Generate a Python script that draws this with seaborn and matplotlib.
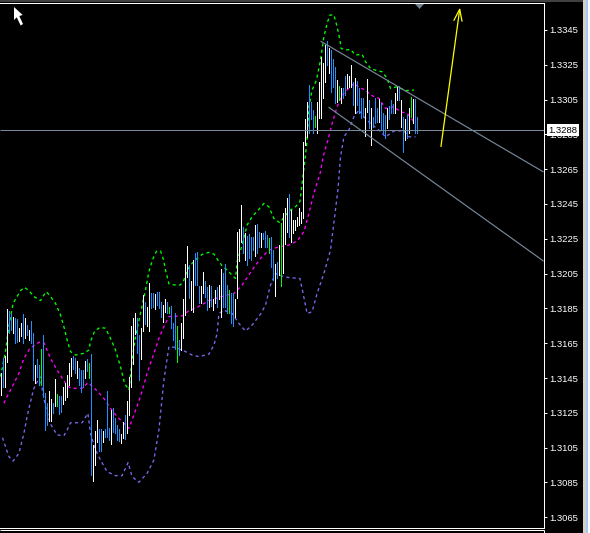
import matplotlib
matplotlib.use("Agg")
import matplotlib.pyplot as plt
import pandas as pd
import seaborn as sns

# bars, left to right
highs = [
    1.31477, 1.31563, 1.31577, 1.31845, 1.31837, 1.31818, 1.31803, 1.31793, 1.31787, 1.31736,
    1.31764, 1.31818, 1.31793, 1.31755, 1.31726, 1.31778, 1.31707, 1.31525, 1.31558, 1.31525,
    1.31615, 1.31697, 1.31362, 1.31305, 1.31375, 1.31328, 1.31305, 1.31443, 1.31358, 1.31347,
    1.31347, 1.31400, 1.31420, 1.31466, 1.31535, 1.31563, 1.31577, 1.31563, 1.31550, 1.31506,
    1.31496, 1.31496, 1.31550, 1.31558, 1.31535, 1.31588, 1.31065, 1.31146, 1.31209, 1.31155,
    1.31155, 1.31147, 1.31155, 1.31375, 1.31161, 1.31266, 1.31276, 1.31218, 1.31180, 1.31155,
    1.31128, 1.31199, 1.31238, 1.31318, 1.31458, 1.31749, 1.31793, 1.31822, 1.31797, 1.31697,
    1.31736, 1.31927, 1.31885, 1.31860, 1.31994, 1.31937, 1.31937, 1.31933, 1.31946, 1.31946,
    1.31885, 1.31870, 1.31902, 1.31885, 1.31860, 1.31864, 1.31764, 1.31822, 1.31749, 1.31669,
    1.31764, 1.31902, 1.32105, 1.32208, 1.32099, 1.32007, 1.32128, 1.32166, 1.32176, 1.31978,
    1.31978, 1.32057, 1.32007, 1.31974, 1.31984, 1.31978, 1.31902, 1.31955, 1.31974, 1.31984,
    1.32076, 1.32051, 1.32105, 1.31984, 1.31955, 1.31940, 1.31940, 1.31902, 1.32287, 1.32304,
    1.32444, 1.32319, 1.32281, 1.32268, 1.32277, 1.32262, 1.32262, 1.32329, 1.32335, 1.32291,
    1.32281, 1.32281, 1.32294, 1.32271, 1.32252, 1.32262, 1.32185, 1.32105, 1.32118, 1.32214,
    1.32338, 1.32396, 1.32425, 1.32482, 1.32507, 1.32415, 1.32358, 1.32358, 1.32377, 1.32425,
    1.32405, 1.32808, 1.32936, 1.33038, 1.33133, 1.33038, 1.32990, 1.32955, 1.33038, 1.33153,
    1.33296, 1.33258, 1.33363, 1.33386, 1.33344, 1.33335, 1.33281, 1.33239, 1.33162, 1.33128,
    1.33118, 1.33118, 1.33185, 1.33197, 1.33185, 1.33248, 1.33153, 1.33172, 1.33156, 1.33114,
    1.33061, 1.33057, 1.32999, 1.33166, 1.33047, 1.32999, 1.32951, 1.33057, 1.32999, 1.33051,
    1.33028, 1.32971, 1.32961, 1.32999, 1.33013, 1.33047, 1.33024, 1.33086, 1.33128, 1.33128,
    1.33047, 1.32951, 1.32936, 1.32961, 1.32999, 1.33063, 1.33051, 1.33051, 1.32948,
]
lows = [
    1.31352, 1.31397, 1.31397, 1.31544, 1.31707, 1.31726, 1.31707, 1.31653, 1.31659, 1.31663,
    1.31692, 1.31653, 1.31678, 1.31697, 1.31669, 1.31649, 1.31439, 1.31420, 1.31458, 1.31410,
    1.31410, 1.31343, 1.31151, 1.31180, 1.31205, 1.31205, 1.31247, 1.31289, 1.31289, 1.31243,
    1.31257, 1.31301, 1.31324, 1.31343, 1.31410, 1.31462, 1.31500, 1.31477, 1.31448, 1.31410,
    1.31372, 1.31400, 1.31448, 1.31492, 1.31448, 1.30893, 1.30860, 1.30950, 1.31084, 1.31031,
    1.31031, 1.31084, 1.31113, 1.31113, 1.31094, 1.31071, 1.31142, 1.31132, 1.31094, 1.31088,
    1.31079, 1.31103, 1.31100, 1.31132, 1.31238, 1.31400, 1.31529, 1.31703, 1.31592, 1.31439,
    1.31559, 1.31720, 1.31761, 1.31749, 1.31722, 1.31851, 1.31856, 1.31845, 1.31870, 1.31851,
    1.31803, 1.31774, 1.31831, 1.31822, 1.31822, 1.31736, 1.31669, 1.31615, 1.31544, 1.31582,
    1.31611, 1.31681, 1.31812, 1.32032, 1.31907, 1.31840, 1.31831, 1.31984, 1.31984, 1.31879,
    1.31882, 1.31936, 1.31917, 1.31840, 1.31856, 1.31863, 1.31840, 1.31882, 1.31856, 1.31902,
    1.31802, 1.31859, 1.31856, 1.31821, 1.31825, 1.31764, 1.31748, 1.31802, 1.31911, 1.32124,
    1.32233, 1.32166, 1.32128, 1.32099, 1.32137, 1.32128, 1.32185, 1.32151, 1.32166, 1.32200,
    1.32200, 1.32246, 1.32204, 1.32204, 1.32166, 1.32086, 1.32013, 1.31921, 1.32022, 1.32041,
    1.31978, 1.32051, 1.32220, 1.32291, 1.32258, 1.32233, 1.32281, 1.32300, 1.32323, 1.32329,
    1.32338, 1.32367, 1.32789, 1.32836, 1.32856, 1.32936, 1.32856, 1.32894, 1.32856, 1.32942,
    1.32942, 1.33057, 1.33153, 1.33248, 1.33200, 1.33095, 1.33124, 1.33028, 1.33038, 1.33047,
    1.33028, 1.33057, 1.33076, 1.33114, 1.33124, 1.33124, 1.33018, 1.32971, 1.33018, 1.32971,
    1.32942, 1.32951, 1.32840, 1.32980, 1.32884, 1.32789, 1.32894, 1.32913, 1.32923, 1.32923,
    1.32875, 1.32856, 1.32827, 1.32884, 1.32936, 1.32971, 1.32974, 1.32971, 1.33047, 1.33047,
    1.32894, 1.32750, 1.32817, 1.32827, 1.32856, 1.32951, 1.32917, 1.32856, 1.32856,
]
kinds = list(
    "WBWWBBWBBW" "WBWBWBBWBB" "GBBBWWBWGB" "BWWWWWBBWB" "BBWBGBWWWB"
    "BWBBBWBBBB" "WWBWWWWWBB" "WWBWWBBWBB" "BWWBGBBBGB" "WWWWBWWBBB"
    "WWBBWBWWBW" "WBBBGBBWWW" "WBWBBBBWBB" "WBBBGBBWBW" "GWWWBWWWWW"
    "WWWWBBBGWW" "WWWBWBBBWG" "WBBWWWBWBB" "BBWWBWBBBW" "BBBWBBBWWB"
    "WBWBWGWBB"
)

# bollinger style bands, sampled by bar number
upper_x = [
    0, 2.5, 4, 6.3, 8.3, 10, 12, 14.2, 16.7, 20, 21.7, 23, 25, 27.5, 30, 31.7, 33.3, 35, 37.5, 41.7,
    44.2, 45, 47, 49.7, 52.5, 55, 57.5, 60, 62, 64.2, 65.8, 67.5, 70, 72.5, 74.2, 76, 78, 80, 81.5, 82.5,
    84.2, 86.7, 90, 91.7, 93.3, 95.8, 98.3, 100.8, 104.2, 106.7, 108.7, 110.8, 113.3, 115.8, 117.5, 118.3,
    120.8, 123.3, 125.8, 129.2, 131.7, 134.2, 136.7, 139.7, 142.5, 145, 147.5, 149.7, 150.8, 152, 153.3,
    154.2, 155.8, 158, 160, 161.7, 163.3, 164.7, 166.7, 168.3, 169.7, 170.3, 172.5, 175, 177.5, 180.8,
    182.5, 185, 188.3, 190.8, 193.3, 195, 198.3, 202.5, 206.7,
]
upper_y = [
    1.31458, 1.31602, 1.31736, 1.31879, 1.31918, 1.31952, 1.31971, 1.31952, 1.31918, 1.31895,
    1.31927, 1.31946, 1.31918, 1.31879, 1.31812, 1.31745, 1.31669, 1.31602, 1.31582, 1.31592,
    1.31611, 1.31659, 1.31717, 1.31741, 1.31736, 1.31678, 1.31611, 1.31515, 1.31420, 1.31381,
    1.31554, 1.31688, 1.31822, 1.31956, 1.32061, 1.32130, 1.32178, 1.32180, 1.32130, 1.32071,
    1.31991, 1.31985, 1.31985, 1.32013, 1.32070, 1.32109, 1.32137, 1.32160, 1.32172, 1.32162,
    1.32128, 1.32095, 1.32070, 1.32041, 1.32022, 1.32118, 1.32214, 1.32329, 1.32377, 1.32419,
    1.32453, 1.32434, 1.32367, 1.32342, 1.32386, 1.32415, 1.32434, 1.32463, 1.32568, 1.32683,
    1.32817, 1.33009, 1.33105, 1.33162, 1.33277, 1.33411, 1.33488, 1.33536, 1.33536, 1.33469,
    1.33392, 1.33344, 1.33335, 1.33338, 1.33306, 1.33310, 1.33268, 1.33229, 1.33216, 1.33210,
    1.33172, 1.33114, 1.33124, 1.33101, 1.33105,
]
middle_x = [
    1.7, 3.3, 6.3, 9.2, 11.7, 14.7, 19.2, 21.7, 25, 28.3, 32.5, 35, 40.8, 43.7, 47.5, 51.7, 55, 58.3,
    64.2, 66.7, 70, 73.3, 76.7, 79.2, 81.7, 84.2, 90.8, 94.2, 98.3, 104.2, 110, 116.7, 120.8, 125.8,
    130, 134.2, 139.2, 144.2, 148.3, 151.7, 154.2, 156.7, 160, 161.3, 163.7, 165.8, 168.3, 170.8,
    173.3, 176.7, 179.2, 182.5, 185, 189.2, 192.5, 196.7, 200, 203.3, 206.7,
]
middle_y = [
    1.31305, 1.31343, 1.31410, 1.31477, 1.31563, 1.31621, 1.31655, 1.31653, 1.31563, 1.31496,
    1.31420, 1.31391, 1.31391, 1.31423, 1.31385, 1.31333, 1.31276, 1.31228, 1.31161, 1.31238,
    1.31343, 1.31477, 1.31592, 1.31678, 1.31745, 1.31803, 1.31807, 1.31837, 1.31856, 1.31894,
    1.31917, 1.31936, 1.31984, 1.32070, 1.32137, 1.32185, 1.32204, 1.32214, 1.32237, 1.32291,
    1.32396, 1.32511, 1.32635, 1.32721, 1.32817, 1.32913, 1.33009, 1.33076, 1.33105, 1.33143,
    1.33120, 1.33105, 1.33076, 1.33057, 1.32999, 1.33009, 1.32980, 1.32971, 1.32923,
]
lower_x = [
    1, 2.5, 4.2, 6.3, 9.2, 11.7, 13.3, 15, 16.7, 19.7, 22.5, 25, 28.3, 31.7, 33.3, 35, 40.8, 43.7, 45,
    47.5, 50, 53.3, 57.5, 60.8, 63.8, 65.8, 69.2, 73.3, 76.7, 79.2, 81.7, 84.2, 87.5, 92.5, 95.8, 99.2,
    104.2, 106.7, 108.3, 109.2, 111.7, 115.8, 119.2, 122.5, 125.8, 130, 132.5, 135, 137.5, 141.7, 145,
    149.7, 151.3, 153.3, 155.8, 158.3, 161.7, 165, 168.7, 170, 171.7, 174.2, 176.7, 179.2, 181.7, 185,
    189.2, 192.5, 196.7, 201.7, 204.2, 207.5,
]
lower_y = [
    1.31107, 1.31056, 1.30998, 1.30973, 1.31017, 1.31132, 1.31228, 1.31314, 1.31391, 1.31458,
    1.31285, 1.31186, 1.31123, 1.31119, 1.31151, 1.31193, 1.31193, 1.31247, 1.31132, 1.31036,
    1.30979, 1.30912, 1.30889, 1.30889, 1.30964, 1.30883, 1.30851, 1.30902, 1.30979, 1.31151,
    1.31439, 1.31630, 1.31626, 1.31602, 1.31582, 1.31573, 1.31587, 1.31639, 1.31706, 1.31821,
    1.31840, 1.31821, 1.31764, 1.31720, 1.31754, 1.31817, 1.31869, 1.31984, 1.32051, 1.32032,
    1.32026, 1.32022, 1.31936, 1.31821, 1.31831, 1.31936, 1.32051, 1.32185, 1.32530, 1.32721,
    1.32836, 1.32875, 1.32951, 1.32990, 1.32951, 1.32913, 1.32875, 1.32836, 1.32869, 1.32871,
    1.32836, 1.32836,
]

# hand drawn objects on the chart
channel_top_x = [160, 271.5]
channel_top_y = [1.33386, 1.32634]
channel_bottom_x = [164, 271.5]
channel_bottom_y = [1.33007, 1.32122]
arrow_x = [220.2, 229.6]
arrow_y = [1.32778, 1.33569]
barb_x = [226.6, 229.6, 230.8]
barb_y = [1.33503, 1.33569, 1.33498]

price_now = 1.32875
tick_prices = [
    1.3345, 1.3325, 1.3305, 1.3285, 1.3265, 1.3245, 1.3225, 1.3205,
    1.3185, 1.3165, 1.3145, 1.3125, 1.3105, 1.3085, 1.3065,
]

W, H = 590, 533

sns.set_style("dark", {"axes.facecolor": "black", "figure.facecolor": "black"})
plt.rcParams["font.family"] = ["Liberation Sans", "DejaVu Sans"]
plt.rcParams["lines.solid_capstyle"] = "butt"

fig = plt.figure(figsize=(W / 100, H / 100), dpi=100)
ax = fig.add_axes([0, 1 - 527.5 / H, 543.5 / W, 524.5 / H])
px = 0.72

# bands go under the bars
for xs, ys, color in [
    (upper_x, upper_y, "#00ff00"),
    (middle_x, middle_y, "#ff00ff"),
    (lower_x, lower_y, "#7b68ee"),
]:
    line_df = pd.DataFrame({"bar": xs, "price": ys})
    sns.lineplot(data=line_df, x="bar", y="price", color=color, lw=0.95, ls=(0, (2.4, 2.4)),
                 sort=False, estimator=None, ax=ax)

bars = pd.DataFrame({"bar": range(len(highs)), "high": highs, "low": lows, "kind": kinds})
colors = {"W": "#ffffff", "B": "#1e90ff", "G": "#00ff00"}
ax.vlines(bars["bar"], bars["low"], bars["high"], colors=bars["kind"].map(colors).tolist(),
          linewidths=px, antialiased=False, snap=True, zorder=3)

# channel, price line, arrow
grey = "#778899"
sns.lineplot(x=channel_top_x, y=channel_top_y, color=grey, lw=0.85, ax=ax, zorder=4)
sns.lineplot(x=channel_bottom_x, y=channel_bottom_y, color=grey, lw=0.85, ax=ax, zorder=4)
ax.axhline(price_now, color=grey, lw=px, zorder=4)
sns.lineplot(x=arrow_x, y=arrow_y, color="#ffff00", lw=0.9, ax=ax, zorder=4)
sns.lineplot(x=barb_x, y=barb_y, color="#ffff00", lw=0.9, sort=False, estimator=None, ax=ax, zorder=4)

ax.set_xlim(-0.25, 271.5)
ax.set_ylim(1.30591, 1.33605)
ax.set_xlabel("")
ax.set_ylabel("")
ax.set_xticks([])
ax.grid(False)
ax.yaxis.tick_right()
ax.set_yticks(tick_prices)
ax.set_yticklabels([f"{p:.4f}" for p in tick_prices])
ax.tick_params(axis="y", colors="white", length=2.2, width=0.72, pad=2, labelsize=6.8, right=True)
ax.spines["left"].set_visible(False)
for side in ["top", "right", "bottom"]:
    ax.spines[side].set_color("white")
    ax.spines[side].set_linewidth(0.72)

# current price box on the axis, it sits over the 1.3285 label as in the terminal
ax.annotate(
    f"{price_now:.4f}", xy=(1, price_now), xycoords=("axes fraction", "data"),
    xytext=(3.6, 0), textcoords="offset points", va="center", ha="left",
    color="black", fontsize=6.8,
    bbox=dict(boxstyle="square,pad=0.2", fc="white", ec="white", lw=0),
    annotation_clip=False, zorder=10,
)

# window furniture: pixel coordinates, y down
def pix(x, y):
    return x / W, 1 - y / H

t = fig.transFigure
fig.add_artist(plt.Rectangle(pix(0, 1.5), 583 / W, 1.5 / H, fc="#404040", ec="none", transform=t))
fig.add_artist(plt.Line2D([0, 543.5 / W], [1 - 529.5 / H] * 2, color="white", lw=0.72, transform=t))
fig.add_artist(plt.Line2D([543.5 / W] * 2, [1 - 529.5 / H, 0], color="white", lw=0.72, transform=t))
fig.add_artist(plt.Rectangle(pix(583, H), 2.5 / W, 1, fc="#d4d0c8", ec="none", transform=t))
fig.add_artist(plt.Rectangle(pix(585.5, H), 2.5 / W, 1, fc="#a6caf0", ec="none", transform=t))
fig.add_artist(plt.Rectangle(pix(588, H), 2 / W, 1, fc="white", ec="none", transform=t))

# little triangle marker and mouse pointer
fig.add_artist(plt.Polygon([pix(415, 4), pix(424, 4), pix(419.5, 9)], fc="#708090", ec="none", transform=t))
pointer = [(14, 7), (14, 20), (16.7, 17.3), (20.7, 25.5), (23, 24), (19.3, 16), (22.7, 15)]
fig.add_artist(plt.Polygon([pix(*p) for p in pointer], fc="white", ec="none", transform=t))

fig.savefig("out.png", dpi=100, facecolor="black")
